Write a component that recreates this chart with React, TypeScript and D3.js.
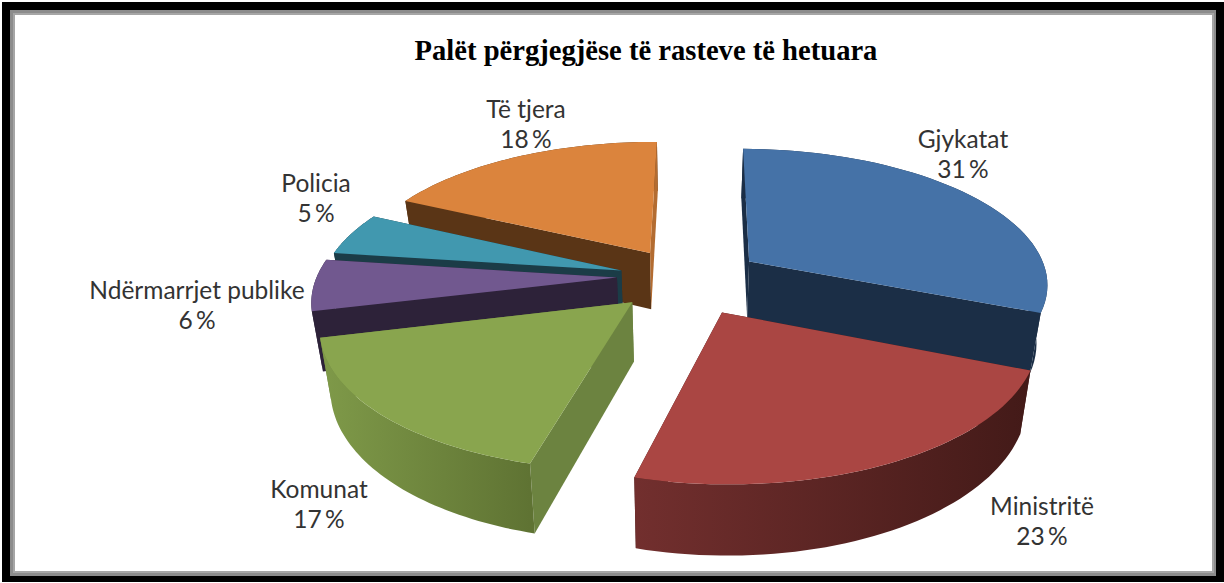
import React from "react";
import * as d3 from "d3";

const title = "Palët përgjegjëse të rasteve të hetuara";
const categories = ["Gjykatat", "Ministritë", "Komunat", "Ndërmarrjet publike", "Policia", "Të tjera"];
const values = [31, 23, 17, 6, 5, 18];
const valueLabels = ["31 %", "23 %", "17 %", "6 %", "5 %", "18 %"];
const explode = [80, 80, 72, 66, 66, 70];
const nudgeX = [1, 2, 2, 0, 1, 3];
const nudgeY = [2, 0, 0, -3, 0, 0];
const topColors = ["#4572a7", "#aa4643", "#89a54e", "#71588f", "#4198af", "#db843d"];
const wallColors = ["#1b2e46", "#451b19", "#6c8340", "#2d2239", "#1b3c47", "#5a3516"];
const endWallColors = ["#1b2e46", "#451b19", "#6c8340", "#2d2239", "#1b3c47", "#b36c31"];
const endWallAboveRim = [false, false, false, false, false, true];
const rimStops = [
  ["#1b2e46", "#1b2e46"],
  ["#722f2e", "#431a18"],
  ["#7f9a49", "#5f7333"],
  ["#2d2239", "#2d2239"],
  ["#1b3c47", "#1b3c47"],
  ["#5a3516", "#5a3516"],
];
const labelX = [963, 1042, 319, 197, 316, 526];
const labelY = [140, 507, 490, 291, 184, 110];
const drawOrder = [5, 4, 3, 0, 2, 1];

const W = 1224, H = 583;
const vx = 683, vy = 279, R = 300, K = 0.45, C = 0.15, DEPTH = 58, SHRINK = 0.97;

const project = (X: number, Y: number): [number, number] => {
  const w = 1 - (C * Y) / R;
  return [vx + X / w, vy + (K * Y) / w];
};
const drop = ([x, y]: [number, number], Y: number): [number, number] => {
  const w = 1 - (C * Y) / R;
  return [vx + (x - vx) * SHRINK, y + DEPTH / w];
};

const rotation = 0.009;
const pieGen = d3.pie<number>().sort(null).startAngle(rotation).endAngle(Math.PI * 2 + rotation);
const arcs = pieGen(values);
const line = d3.line();

const slices = arcs.map((a, i) => {
  const mid = (a.startAngle + a.endAngle) / 2;
  const ax = explode[i] * Math.sin(mid);
  const ay = -explode[i] * Math.cos(mid);
  const shift = (p: [number, number]): [number, number] => [p[0] + nudgeX[i], p[1] + nudgeY[i]];
  const angles = d3.range(0, 49).map((s) => a.startAngle + ((a.endAngle - a.startAngle) * s) / 48);
  const world = angles.map((t) => [ax + R * Math.sin(t), ay - R * Math.cos(t)] as [number, number]);
  const rimBase = world.map(([x, y]) => project(x, y));
  const rimTop = rimBase.map(shift);
  const rimBottom = rimBase.map((p, j) => shift(drop(p, world[j][1])));
  const apexBase = project(ax, ay);
  const apex = shift(apexBase);
  const apexBottom = shift(drop(apexBase, ay));
  return { i, apex, apexBottom, rimTop, rimBottom };
});

export default function App() {
  return (
    <svg
      width={W}
      height={H}
      viewBox={`0 0 ${W} ${H}`}
      style={{ position: "absolute", left: 0, top: 0, background: "#fff" }}
    >
      <defs>
        {slices.map((s) => {
          const xs = s.rimTop.map((p) => p[0]);
          const low = d3.min(xs) as number;
          const high = d3.max(xs) as number;
          return (
            <linearGradient key={s.i} id={`rim${s.i}`} gradientUnits="userSpaceOnUse" x1={low} x2={high} y1={0} y2={0}>
              <stop offset="0%" stopColor={rimStops[s.i][0]} />
              <stop offset="100%" stopColor={rimStops[s.i][1]} />
            </linearGradient>
          );
        })}
      </defs>
      <rect x={2} y={2} width={1222} height={580} fill="#000" />
      <rect x={10} y={10} width={1206} height={566} fill="#8c8c8c" />
      <rect x={13} y={13} width={1201} height={560} fill="#a6a6a6" />
      <rect x={15} y={15} width={1197} height={556} fill="#fff" />

      {drawOrder.map((i) => {
        const s = slices[i];
        const n = s.rimTop.length - 1;
        const startWall = [s.apex, s.rimTop[0], s.rimBottom[0], s.apexBottom] as [number, number][];
        const endWall = [s.apex, s.rimTop[n], s.rimBottom[n], s.apexBottom] as [number, number][];
        const rim = [...s.rimTop, ...[...s.rimBottom].reverse()];
        const top = [s.apex, ...s.rimTop];
        const endPath = <path d={`${line(endWall)}Z`} fill={endWallColors[i]} />;
        return (
          <g key={i}>
            {!endWallAboveRim[i] && endPath}
            <path d={`${line(startWall)}Z`} fill={wallColors[i]} />
            <path d={`${line(rim)}Z`} fill={`url(#rim${i})`} />
            {endWallAboveRim[i] && endPath}
            <path d={`${line(top)}Z`} fill={topColors[i]} />
          </g>
        );
      })}

      <text
        x={646}
        y={60}
        textAnchor="middle"
        fontFamily="'Liberation Serif', serif"
        fontWeight="bold"
        fontSize={28.6}
        fill="#000"
      >
        {title}
      </text>
      {categories.map((c, i) => (
        <text
          key={c}
          textAnchor="middle"
          fontFamily="Lato, sans-serif"
          fontSize={24.5}
          fill="#333"
        >
          <tspan x={labelX[i]} y={labelY[i] + 8}>{c}</tspan>
          <tspan x={labelX[i]} y={labelY[i] + 38} wordSpacing={-3}>{valueLabels[i]}</tspan>
        </text>
      ))}
    </svg>
  );
}
